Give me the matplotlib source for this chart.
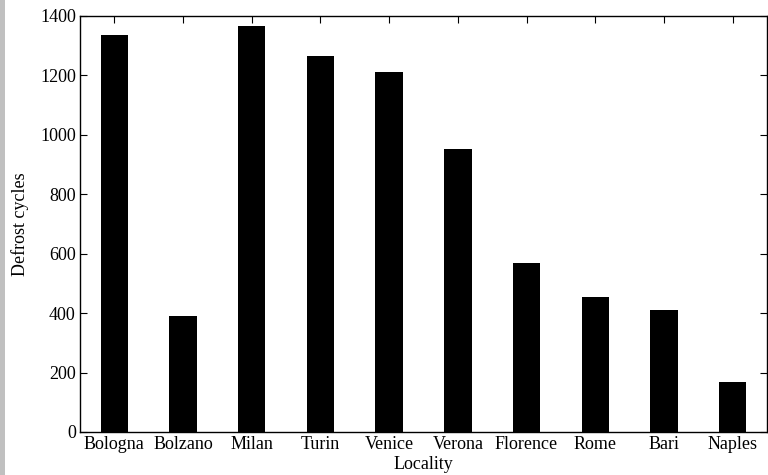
import matplotlib
matplotlib.use('Agg')
import matplotlib.pyplot as plt
from matplotlib.patches import Rectangle
import numpy as np

plt.rcParams.update({'font.family': 'serif'})
plt.rcParams.update({'font.serif': ['Liberation Serif', 'DejaVu Serif']})
plt.rcParams.update({'font.size': 13})

# data
cities = ['Bologna', 'Bolzano', 'Milan', 'Turin', 'Venice', 'Verona',
          'Florence', 'Rome', 'Bari', 'Naples']
cycles = [1336, 390, 1368, 1266, 1212, 954, 570, 453, 411, 167]

fig = plt.figure(figsize=(7.68, 4.75), dpi=100)
fig.patches.append(Rectangle((0, 0), 5/768, 1, transform=fig.transFigure,
                             facecolor='#c0c0c0', edgecolor='none', zorder=-1))
ax = fig.add_axes([80/768, 1-432/475, 687/768, 416/475])

xx = np.arange(1, len(cities)+1)
ax.bar(xx, cycles, width=0.4, color='black')
ax.set_xlim(0.5, 10.5)
ax.set_ylim(0, 1400)
ax.set_yticks(np.arange(0, 1401, 200))
ax.set_xticks(xx)
ax.set_xticklabels(cities)
ax.tick_params(direction='in', top=True, right=True, length=5, width=0.8, pad=3)
for s in ax.spines.values():
    s.set_linewidth(1.0)
ax.set_xlabel('Locality', labelpad=2)
ax.set_ylabel('Defrost cycles', labelpad=8)

plt.savefig('out.png', dpi=100)
